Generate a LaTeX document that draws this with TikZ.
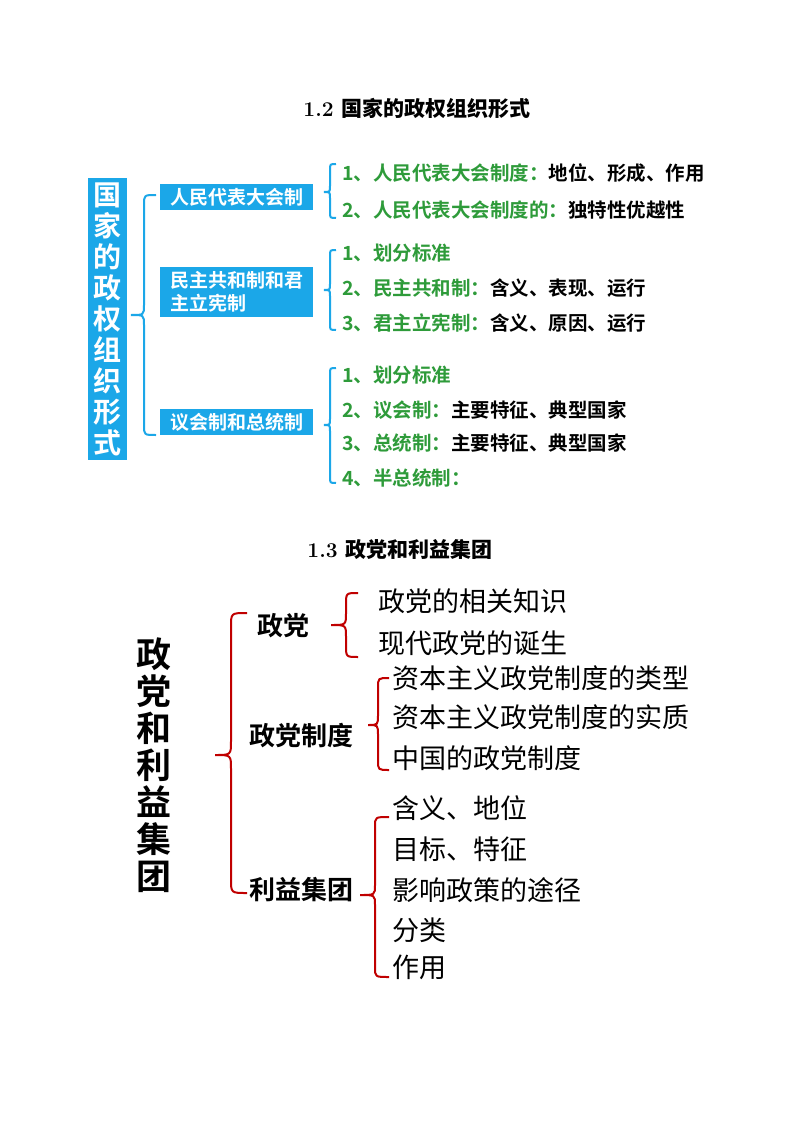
\documentclass[tikz,border=0pt]{standalone}
\usepackage{fontspec}
\newfontfamily\cjk{Noto Sans CJK SC}
\newfontfamily\cjkb{Noto Sans CJK SC Bold}
\definecolor{cy}{HTML}{1BA7E8}
\definecolor{gr}{HTML}{2E9B3A}
\definecolor{rd}{HTML}{C00000}
\newcommand\mybrace[8]{% color, xt, yt, xl, xtip, ytip, yb, r
\draw[#1,line width=2pt] (#2,#3) .. controls (#4,#3) .. (#4,{#3+#8}) -- (#4,{#6-#8}) .. controls (#4,#6) .. (#5,#6) .. controls (#4,#6) .. (#4,{#6+#8}) -- (#4,{#7-#8}) .. controls (#4,#7) .. (#2,#7);}
\tikzset{
 cbox/.style={fill=cy,text=white,font=\cjkb\fontsize{19}{22}\selectfont,anchor=north west,inner sep=4pt,align=left},
 itm/.style={anchor=west,inner sep=0pt,font=\cjkb\fontsize{19.5}{22}\selectfont},
 bitm/.style={anchor=west,inner sep=0pt,font=\cjk\fontsize{27}{30}\selectfont},
 blab/.style={inner sep=0pt,font=\cjkb\fontsize{26}{28}\selectfont},
 ttl/.style={font=\bfseries\fontsize{21}{24}\selectfont},
}
\begin{document}
\begin{tikzpicture}[x=1pt,y=-1pt]
\useasboundingbox (0,0) rectangle (794,1123);
\fill[white] (0,0) rectangle (794,1123);
% ---------- 1.2 ----------
\node[ttl] (t1) at (417,108) {1.2 {\cjk 国家的政权组织形式}};
\node[fill=cy,text=white,minimum width=39pt,minimum height=282pt,inner sep=0pt,align=center,font=\cjkb\fontsize{28}{31}\selectfont] (L) at (107,319) {国\\家\\的\\政\\权\\组\\织\\形\\式};
\mybrace{cy}{156}{195}{144}{131}{315}{435}{10}
\node[cbox,minimum width=153pt,minimum height=26pt] (b1) at (160,184) {人民代表大会制};
\node[cbox,minimum width=153pt,minimum height=50pt,font=\cjkb\fontsize{19}{23}\selectfont] (b2) at (160,267) {民主共和制和君\\主立宪制};
\node[cbox,minimum width=153pt,minimum height=26pt] (b3) at (160,409) {议会制和总统制};
\mybrace{cy}{336}{164}{330}{324}{192}{218}{6}
\mybrace{cy}{336}{250}{330}{324}{290}{330}{6}
\mybrace{cy}{336}{368}{330}{324}{425}{483}{6}
\node[itm] (i11) at (342,173) {\color{gr}1、人民代表大会制度：\color{black}地位、形成、作用};
\node[itm] (i12) at (342,210) {\color{gr}2、人民代表大会制度的：\color{black}独特性优越性};
\node[itm] (i21) at (342,253) {\color{gr}1、划分标准};
\node[itm] (i22) at (342,288) {\color{gr}2、民主共和制：\color{black}含义、表现、运行};
\node[itm] (i23) at (342,323) {\color{gr}3、君主立宪制：\color{black}含义、原因、运行};
\node[itm] (i31) at (342,375) {\color{gr}1、划分标准};
\node[itm] (i32) at (342,410) {\color{gr}2、议会制：\color{black}主要特征、典型国家};
\node[itm] (i33) at (342,443) {\color{gr}3、总统制：\color{black}主要特征、典型国家};
\node[itm] (i34) at (342,478) {\color{gr}4、半总统制：};
% ---------- 1.3 ----------
\node[ttl] (t2) at (400,549) {1.3 {\cjk 政党和利益集团}};
\node[align=center,inner sep=0pt,font=\cjkb\fontsize{35}{37}\selectfont] (V) at (154,765) {政\\党\\和\\利\\益\\集\\团};
\mybrace{rd}{247}{613}{231}{215}{755}{893}{14}
\node[blab] (p1) at (283,626) {政党};
\node[blab] (p2) at (301,736) {政党制度};
\node[blab] (p3) at (301,890) {利益集团};
\mybrace{rd}{358}{593}{346}{331}{625}{657}{12}
\mybrace{rd}{389}{678}{378}{368}{725}{770}{10}
\mybrace{rd}{389}{817}{375}{360}{895}{977}{10}
\node[bitm] (a1) at (378,601) {政党的相关知识};
\node[bitm] (a2) at (378,643) {现代政党的诞生};
\node[bitm] (c1) at (392,678) {资本主义政党制度的类型};
\node[bitm] (c2) at (392,717) {资本主义政党制度的实质};
\node[bitm] (c3) at (392,758) {中国的政党制度};
\node[bitm] (d1) at (392,808) {含义、地位};
\node[bitm] (d2) at (392,849) {目标、特征};
\node[bitm] (d3) at (392,890) {影响政策的途径};
\node[bitm] (d4) at (392,930) {分类};
\node[bitm] (d5) at (392,967) {作用};
\end{tikzpicture}
\end{document}
